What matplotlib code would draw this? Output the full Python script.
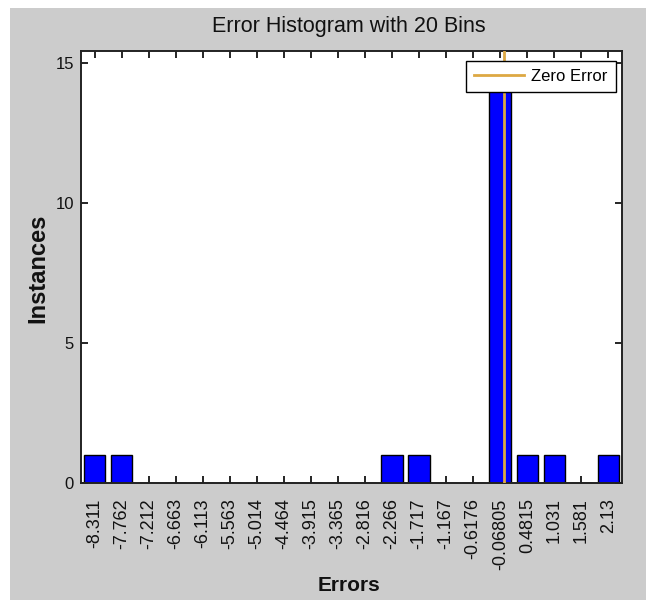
import numpy as np
import matplotlib
matplotlib.use('Agg')
import matplotlib.pyplot as plt
from matplotlib.patches import Rectangle

# bin centres as printed under the axis, and instances per bin
bin_labels = ['-8.311', '-7.762', '-7.212', '-6.663', '-6.113', '-5.563', '-5.014',
              '-4.464', '-3.915', '-3.365', '-2.816', '-2.266', '-1.717', '-1.167',
              '-0.6176', '-0.06805', '0.4815', '1.031', '1.581', '2.13']
counts = [1, 1, 0, 0, 0, 0, 0, 0, 0, 0, 0, 1, 1, 0, 0, 15, 1, 1, 0, 1]
zero_error = 0.0

fam = ['Liberation Sans', 'DejaVu Sans']

centers = np.array([float(s) for s in bin_labels])
bw = (centers[-1] - centers[0]) / (len(centers) - 1)

W, H = 646, 604
fig = plt.figure(figsize=(W / 100.0, H / 100.0), dpi=100)
fig.patch.set_facecolor('white')
fig.patches.append(Rectangle((10.0 / W, 4.0 / H), 1.0, (600.0 - 8.0) / H,
                             transform=fig.transFigure, facecolor='#cccccc',
                             edgecolor='none', zorder=-10))

ax = fig.add_axes([81.0 / W, 1 - 483.0 / H, 541.0 / W, 432.0 / H])
ax.set_facecolor('white')

ax.bar(centers, counts, width=0.8 * bw, color='#0000ff', edgecolor='black',
       linewidth=1.0, zorder=2)
ax.axvline(zero_error, color='#dda843', linewidth=2.0, zorder=3, label='Zero Error')

ax.set_xlim(centers[0] - bw / 2, centers[-1] + bw / 2)
ax.set_ylim(0, 15.43)

ax.set_xticks(centers)
ax.set_xticklabels(bin_labels, rotation=90, va='top', ha='center',
                   family=fam, fontsize=13, color='#111111')
ax.set_yticks([0, 5, 10, 15])
ax.set_yticklabels(['0', '5', '10', '15'], family=fam, fontsize=12,
                   color='#111111')
ax.tick_params(axis='x', direction='in', length=5, width=1.2, top=True, pad=11)
ax.tick_params(axis='y', direction='in', length=5, width=1.2, right=True, pad=5)
for sp in ax.spines.values():
    sp.set_linewidth(1.4)
    sp.set_color('#222222')

leg = ax.legend(loc='upper right', bbox_to_anchor=(0.989, 0.978), fancybox=False,
                framealpha=1, edgecolor='black', borderaxespad=0,
                prop={'family': fam, 'size': 12}, handlelength=3.0,
                borderpad=0.5, handletextpad=0.45)
leg.get_frame().set_linewidth(1.0)
leg.set_zorder(5)

fig.text(349.0 / W, 1 - 32.0 / H, 'Error Histogram with 20 Bins', ha='center',
         va='baseline', family=fam, fontsize=15.5, color='#111111')
fig.text(349.0 / W, 1 - 591.0 / H, 'Errors', ha='center', va='baseline',
         family=fam, fontsize=15, fontweight='bold', color='#111111')
fig.text(38.0 / W, 1 - 268.0 / H, 'Instances', ha='center', va='center',
         rotation=90, family=fam, fontsize=17, fontweight='bold', color='#111111')

plt.savefig('out.png', dpi=100, facecolor=fig.get_facecolor())
